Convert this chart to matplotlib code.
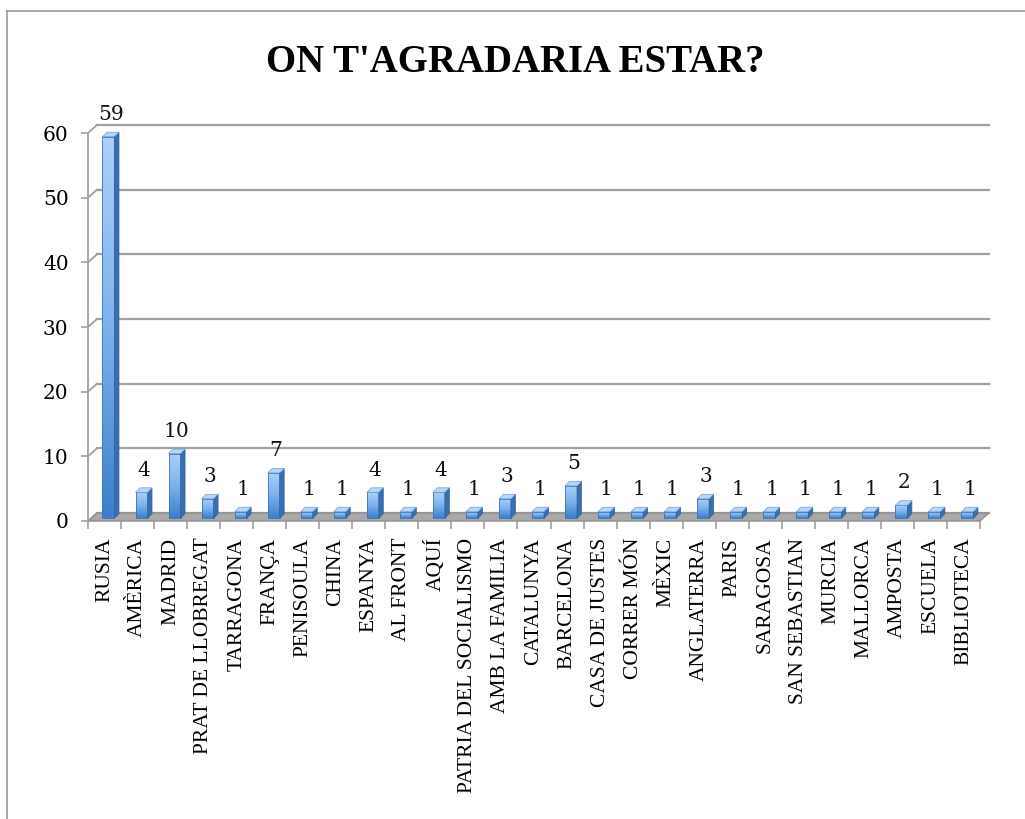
import numpy as np
import matplotlib
matplotlib.use("Agg")
from matplotlib import pyplot as plt
from matplotlib.patches import Polygon
from matplotlib.lines import Line2D
from matplotlib.colors import LinearSegmentedColormap

places = ["RUSIA", "AMÈRICA", "MADRID", "PRAT DE LLOBREGAT", "TARRAGONA", "FRANÇA",
          "PENISOULA", "CHINA", "ESPANYA", "AL FRONT", "AQUÍ", "PATRIA DEL SOCIALISMO",
          "AMB LA FAMILIA", "CATALUNYA", "BARCELONA", "CASA DE JUSTES", "CORRER MÓN",
          "MÈXIC", "ANGLATERRA", "PARIS", "SARAGOSA", "SAN SEBASTIAN", "MURCIA",
          "MALLORCA", "AMPOSTA", "ESCUELA", "BIBLIOTECA"]
votes = [59, 4, 10, 3, 1, 7, 1, 1, 4, 1, 4, 1, 3, 1, 5, 1, 1, 1, 3, 1, 1, 1, 1, 1, 2, 1, 1]
yticks = [0, 10, 20, 30, 40, 50, 60]

W, H = 1025, 819
fig = plt.figure(figsize=(W / 100, H / 100), dpi=100)

# outer frame (only top and left edges visible)
fig.add_artist(Line2D([7 / W, 7 / W], [0, 1 - 11 / H], color="#9a9a9a", lw=1.2))
fig.add_artist(Line2D([7 / W, 1], [1 - 11 / H, 1 - 11 / H], color="#9a9a9a", lw=1.2))

# front plane of the pseudo-3d chart
x_left, x_right, y_zero, y_top = 88, 980, 521, 133
ax = fig.add_axes([x_left / W, (H - y_zero) / H, (x_right - x_left) / W, (y_zero - y_top) / H])
n = len(places)
ax.set_xlim(-0.5, n - 0.5)
ax.set_ylim(0, 60)

xu = (x_right - x_left) / n          # px per category
yu = (y_zero - y_top) / 60           # px per unit
ddx, ddy = 9 / xu, 8 / yu            # depth of the chart
grid_c = "#a0a0a0"

# back wall gridlines + left wall diagonals
for v in yticks:
    ax.plot([-0.5 + ddx, n - 0.5 + ddx], [v + ddy, v + ddy], color=grid_c, lw=1.6,
            clip_on=False, zorder=1)
    ax.plot([-0.5, -0.5 + ddx], [v, v + ddy], color=grid_c, lw=1.3, clip_on=False, zorder=1)

# floor
floor = Polygon([(-0.5, 0), (n - 0.5, 0), (n - 0.5 + ddx, ddy), (-0.5 + ddx, ddy)],
                closed=True, facecolor="#a9a9a9", edgecolor="#8f8f8f", lw=1,
                clip_on=False, zorder=2)
ax.add_patch(floor)

# bars with gradient front face, side and top faces
cmap = LinearSegmentedColormap.from_list("bar", ["#3d7fcc", "#7db2ee", "#acd0f8"])
bw = 12 / xu
sdx, sdy = 4.5 / xu, 4.5 / yu
shift_x, y0 = 0.12, 0.35 * ddy
grad = np.linspace(0, 1, 100).reshape(-1, 1)
for i, v in enumerate(votes):
    x0 = i + shift_x - bw / 2
    x1 = x0 + bw
    top = y0 + v
    ax.imshow(grad, cmap=cmap, origin="lower", aspect="auto",
              extent=(x0, x1, y0, top), zorder=3, clip_on=False)
    ax.add_patch(Polygon([(x0, y0), (x1, y0), (x1, top), (x0, top)], closed=True,
                         fill=False, edgecolor="#3b73b6", lw=0.6, zorder=4, clip_on=False))
    ax.add_patch(Polygon([(x1, y0), (x1 + sdx, y0 + sdy), (x1 + sdx, top + sdy), (x1, top)],
                         closed=True, facecolor="#3a6fae", edgecolor="#2f5f9c", lw=0.5,
                         zorder=4, clip_on=False))
    ax.add_patch(Polygon([(x0, top), (x1, top), (x1 + sdx, top + sdy), (x0 + sdx, top + sdy)],
                         closed=True, facecolor="#b7d6f8", edgecolor="#6e9fd6", lw=0.5,
                         zorder=4, clip_on=False))
    ax.annotate(str(v), (i + shift_x + sdx / 2, top + sdy), xytext=(0, 6),
                textcoords="offset points", ha="center", va="bottom",
                family="DejaVu Serif", fontsize=14.5, color="#111111", zorder=5,
                annotation_clip=False)

ax.set_xlim(-0.5, n - 0.5)
ax.set_ylim(0, 60)

# axes styling
for s in ["top", "right", "bottom"]:
    ax.spines[s].set_visible(False)
ax.spines["left"].set_color(grid_c)
ax.spines["left"].set_linewidth(1.3)
ax.spines["left"].set_zorder(2)

ax.set_yticks(yticks)
ax.set_yticklabels([str(t) for t in yticks], family="DejaVu Serif", fontsize=14.5)
ax.tick_params(axis="y", length=5, width=1.2, color=grid_c, pad=9)

ax.set_xticks(range(n))
ax.set_xticklabels(places, rotation=90, family="Liberation Serif", fontsize=15.5)
ax.tick_params(axis="x", which="major", length=0, pad=12)
ax.set_xticks(np.arange(-0.5, n, 1.0), minor=True)
ax.tick_params(axis="x", which="minor", length=6, width=1.2, color=grid_c)
ax.patch.set_visible(False)

fig.text(515 / W, 1 - 63 / H, "ON T'AGRADARIA ESTAR?", ha="center", va="center",
         family="Liberation Serif", fontweight="bold", fontsize=28)

fig.savefig("out.png", dpi=100)
